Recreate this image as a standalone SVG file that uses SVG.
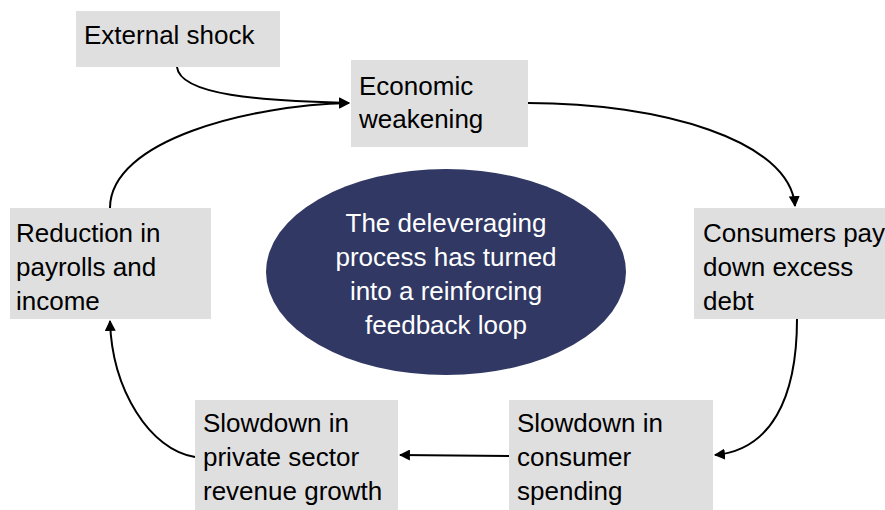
<svg xmlns="http://www.w3.org/2000/svg" width="885" height="510" viewBox="0 0 885 510">
<style>
.box{fill:#dfdfdf}
.t{font-family:"Liberation Sans",Arial,sans-serif;font-size:26px;fill:#000}
.w{font-family:"Liberation Sans",Arial,sans-serif;font-size:26px;fill:#fff;text-anchor:middle}
.c{fill:none;stroke:#000;stroke-width:2}
</style>
<defs>
<marker id="ah" viewBox="0 0 10 10" refX="9" refY="5" markerWidth="5.5" markerHeight="5.5" markerUnits="strokeWidth" orient="auto">
<path d="M0,0 L10,5 L0,10 Z" fill="#000"/>
</marker>
</defs>
<rect width="885" height="510" fill="#fff"/>
<g id="connectors">
<path class="c" d="M177,67 C180,95 260,101 349,103" marker-end="url(#ah)"/>
<path class="c" d="M110,208 C110,140 250,105 349,103" marker-end="url(#ah)"/>
<path class="c" d="M528,103 C660,103 790,140 795,206" marker-end="url(#ah)"/>
<path class="c" d="M797,319 C797,400 770,450 715,455" marker-end="url(#ah)"/>
<path class="c" d="M509,456 L400,455" marker-end="url(#ah)"/>
<path class="c" d="M195,457 C150,450 112,390 110,321" marker-end="url(#ah)"/>
</g>
<g id="external-shock">
<rect class="box" x="76" y="11" width="204" height="56"/>
<text class="t" x="84" y="44">External shock</text>
</g>
<g id="economic-weakening">
<rect class="box" x="351" y="60" width="177" height="87"/>
<text class="t" x="359" y="95">Economic</text>
<text class="t" x="359" y="128">weakening</text>
</g>
<g id="consumers-pay">
<rect class="box" x="694" y="208" width="191" height="111"/>
<text class="t" x="703" y="242">Consumers pay</text>
<text class="t" x="703" y="276">down excess</text>
<text class="t" x="703" y="310">debt</text>
</g>
<g id="slowdown-consumer">
<rect class="box" x="509" y="400" width="204" height="110"/>
<text class="t" x="517" y="432">Slowdown in</text>
<text class="t" x="517" y="466">consumer</text>
<text class="t" x="517" y="500">spending</text>
</g>
<g id="slowdown-private">
<rect class="box" x="195" y="400" width="203" height="110"/>
<text class="t" x="203" y="432">Slowdown in</text>
<text class="t" x="203" y="466">private sector</text>
<text class="t" x="203" y="500">revenue growth</text>
</g>
<g id="reduction-payrolls">
<rect class="box" x="10" y="208" width="201" height="111"/>
<text class="t" x="16" y="242">Reduction in</text>
<text class="t" x="16" y="276">payrolls and</text>
<text class="t" x="16" y="310">income</text>
</g>
<g id="center-note">
<ellipse cx="446" cy="272" rx="180" ry="103" fill="#303863"/>
<text class="w" x="446" y="232">The deleveraging</text>
<text class="w" x="446" y="266">process has turned</text>
<text class="w" x="446" y="300">into a reinforcing</text>
<text class="w" x="446" y="334">feedback loop</text>
</g>
</svg>
